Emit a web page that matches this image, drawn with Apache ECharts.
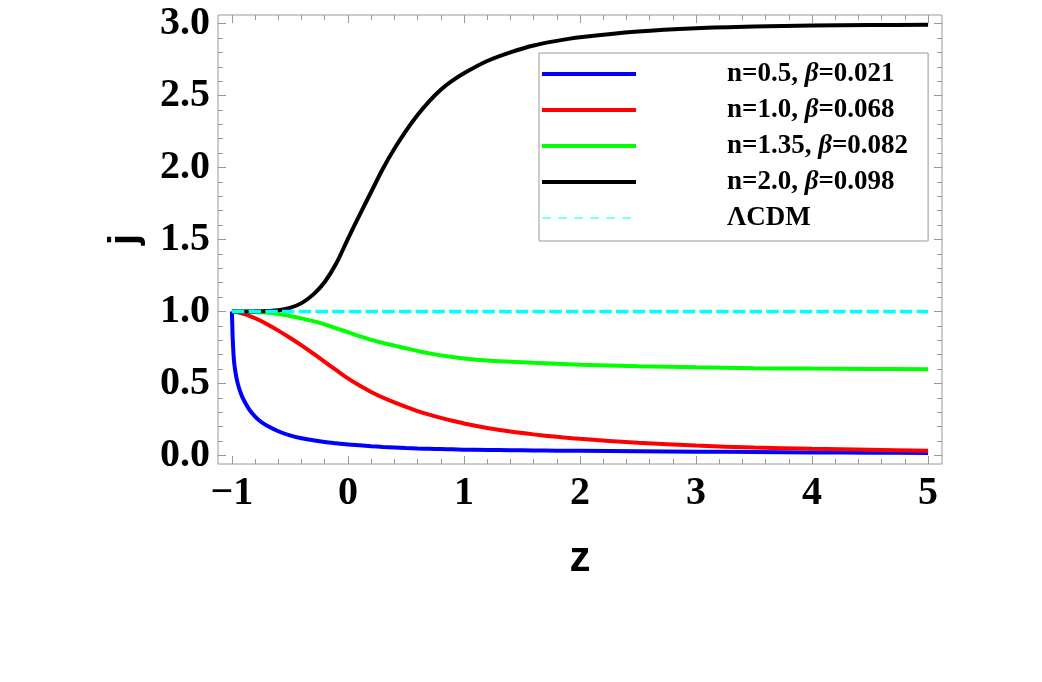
<!DOCTYPE html>
<html>
<head>
<meta charset="utf-8">
<script src="https://cdn.jsdelivr.net/npm/echarts@6/dist/echarts.min.js"></script>
<style>
html, body { margin: 0; padding: 0; background: #fff; }
#chart { width: 1042px; height: 682px; }
</style>
</head>
<body>
<div id="chart"></div>
<script>
// redshift grid shared by the model curves
const zGrid = [-1, -0.995, -0.99, -0.98, -0.96, -0.94, -0.92, -0.9, -0.85, -0.8,
    -0.75, -0.7, -0.6, -0.5, -0.4, -0.3, -0.2, -0.1, 0, 0.1,
    0.2, 0.3, 0.4, 0.5, 0.6, 0.7, 0.8, 0.9, 1.0, 1.2,
    1.4, 1.6, 1.8, 2.0, 2.5, 3.0, 3.5, 4.0, 4.5, 5.0];

// jerk parameter j(z)
const jN05 = [1.0, 0.86, 0.76, 0.64, 0.535, 0.472, 0.425, 0.388, 0.318, 0.27,
    0.234, 0.208, 0.168, 0.139, 0.119, 0.105, 0.093, 0.084, 0.076, 0.070,
    0.064, 0.059, 0.055, 0.051, 0.048, 0.046, 0.044, 0.042, 0.040, 0.038,
    0.036, 0.034, 0.033, 0.032, 0.029, 0.026, 0.024, 0.021, 0.019, 0.017];
const jN10 = [1.0, 1.0, 1.0, 0.999, 0.996, 0.992, 0.988, 0.983, 0.97, 0.953,
    0.934, 0.913, 0.867, 0.817, 0.764, 0.708, 0.65, 0.592, 0.535, 0.485,
    0.441, 0.402, 0.368, 0.337, 0.308, 0.283, 0.261, 0.241, 0.222, 0.191,
    0.166, 0.146, 0.129, 0.115, 0.088, 0.068, 0.055, 0.046, 0.039, 0.033];
const jN135 = [1.0, 1.0, 1.0, 1.0, 1.0, 0.999, 0.999, 0.999, 0.998, 0.997,
    0.995, 0.992, 0.982, 0.968, 0.952, 0.933, 0.91, 0.883, 0.856, 0.828,
    0.803, 0.782, 0.763, 0.744, 0.726, 0.709, 0.695, 0.684, 0.674, 0.66,
    0.651, 0.643, 0.636, 0.63, 0.62, 0.612, 0.606, 0.603, 0.601, 0.599];
const jN20 = [1.0, 1.0, 1.0, 1.0, 1.0, 1.0, 1.0, 1.0, 1.0, 1.001,
    1.002, 1.003, 1.008, 1.025, 1.058, 1.117, 1.205, 1.335, 1.505, 1.67,
    1.83, 1.99, 2.13, 2.255, 2.365, 2.46, 2.54, 2.603, 2.655, 2.74,
    2.8, 2.848, 2.88, 2.905, 2.945, 2.968, 2.98, 2.986, 2.99, 2.992];

// LambdaCDM: j = 1
const lcdmZ = [-1, 5];
const lcdmJ = [1, 1];

const seriesNames = ["n=0.5, β=0.021", "n=1.0, β=0.068", "n=1.35, β=0.082", "n=2.0, β=0.098", "ΛCDM"];
const seriesColors = ["#0000ff", "#ff0000", "#00ff00", "#000000", "#00ffff"];

const serif = '"Liberation Serif", "Times New Roman", serif';
const sans = '"Liberation Sans", Arial, sans-serif';
const frameColor = "#999";

const toPairs = (xs, ys) => xs.map((x, i) => [x, ys[i]]);

const tickStyle = { inside: true, length: 8, lineStyle: { color: frameColor, width: 1 } };
const minorStyle = { show: true, splitNumber: 5, length: 5, lineStyle: { color: frameColor, width: 1 } };
const noLine = { show: false, onZero: false };
const labelStyle = { fontFamily: serif, fontWeight: "bold", fontSize: 40, color: "#000" };

const curve = (idx, ys) => ({
    name: seriesNames[idx],
    type: "line",
    xAxisIndex: 1,
    yAxisIndex: 1,
    data: toPairs(zGrid, ys),
    showSymbol: false,
    symbol: "none",
    smooth: 0.3,
    clip: false,
    lineStyle: { color: seriesColors[idx], width: 4 },
    itemStyle: { color: seriesColors[idx] },
    z: 2 + idx
});

const legendText = name => {
    let parts = name.split("β");
    if (parts.length === 2) {
        return "{t|" + parts[0] + "}{b|β}{t|" + parts[1] + "}";
    }
    return "{t|" + name + "}";
};

const chart = echarts.init(document.getElementById("chart"));

const option = {
    animation: false,
    backgroundColor: "#fff",
    grid: [
        // outer frame
        { left: 218, top: 15, width: 724, height: 449, show: true, borderColor: frameColor, borderWidth: 1, backgroundColor: "transparent" },
        // data area -1..5 / 0..3
        { left: 231.9, top: 23.6, width: 696.2, height: 431.8 }
    ],
    xAxis: [
        { gridIndex: 0, type: "value", min: -1.12, max: 5.12, show: false },
        {
            gridIndex: 1, type: "value", position: "bottom", min: -1, max: 5, interval: 1, offset: 8.6,
            axisLine: noLine, axisTick: tickStyle, minorTick: minorStyle, splitLine: { show: false },
            axisLabel: Object.assign({ margin: 10, formatter: v => (v < 0 ? "\u2212" + Math.abs(v) : String(v)) }, labelStyle),
            name: "z", nameLocation: "middle", nameGap: 74,
            nameTextStyle: { fontFamily: sans, fontWeight: "bold", fontSize: 42, color: "#000" }
        },
        {
            gridIndex: 1, type: "value", position: "top", min: -1, max: 5, interval: 1, offset: 8.6,
            axisLine: noLine, axisTick: tickStyle, minorTick: minorStyle, splitLine: { show: false },
            axisLabel: { show: false }
        }
    ],
    yAxis: [
        { gridIndex: 0, type: "value", min: -0.06, max: 3.06, show: false },
        {
            gridIndex: 1, type: "value", position: "left", min: 0, max: 3, interval: 0.5, offset: 13.9,
            axisLine: noLine, axisTick: tickStyle, minorTick: minorStyle, splitLine: { show: false },
            axisLabel: Object.assign({ margin: 8, formatter: v => v.toFixed(1) }, labelStyle),
            name: "j", nameLocation: "middle", nameGap: 72, nameRotate: 90,
            nameTextStyle: { fontFamily: sans, fontWeight: "bold", fontSize: 40, color: "#000" }
        },
        {
            gridIndex: 1, type: "value", position: "right", min: 0, max: 3, interval: 0.5, offset: 13.9,
            axisLine: noLine, axisTick: tickStyle, minorTick: minorStyle, splitLine: { show: false },
            axisLabel: { show: false }
        }
    ],
    legend: {
        orient: "vertical",
        left: 539,
        top: 53,
        padding: [6, 20, 8, 1],
        itemWidth: 94,
        itemHeight: 14,
        itemGap: 6,
        borderColor: frameColor,
        borderWidth: 1,
        backgroundColor: "#fff",
        selectedMode: false,
        itemStyle: { opacity: 0 },
        lineStyle: { width: 4 },
        formatter: legendText,
        textStyle: {
            fontFamily: serif, fontWeight: "bold", fontSize: 27, lineHeight: 30, color: "#000",
            padding: [0, 0, 0, 86],
            rich: {
                t: { fontFamily: serif, fontWeight: "bold", fontSize: 27, lineHeight: 30, color: "#000" },
                b: { fontFamily: serif, fontWeight: "bold", fontStyle: "italic", fontSize: 27, lineHeight: 30, color: "#000" }
            }
        },
        data: [
            seriesNames[0], seriesNames[1], seriesNames[2], seriesNames[3],
            { name: seriesNames[4], lineStyle: { width: 1, type: [9, 7] } }
        ]
    },
    series: [
        curve(0, jN05),
        curve(1, jN10),
        curve(2, jN135),
        curve(3, jN20),
        {
            name: seriesNames[4],
            type: "line",
            xAxisIndex: 1,
            yAxisIndex: 1,
            data: toPairs(lcdmZ, lcdmJ),
            showSymbol: false,
            symbol: "none",
            clip: false,
            lineStyle: { color: seriesColors[4], width: 3.5, type: [12.5, 4.2] },
            itemStyle: { color: seriesColors[4] },
            z: 10
        }
    ]
};

chart.setOption(option);
</script>
</body>
</html>
